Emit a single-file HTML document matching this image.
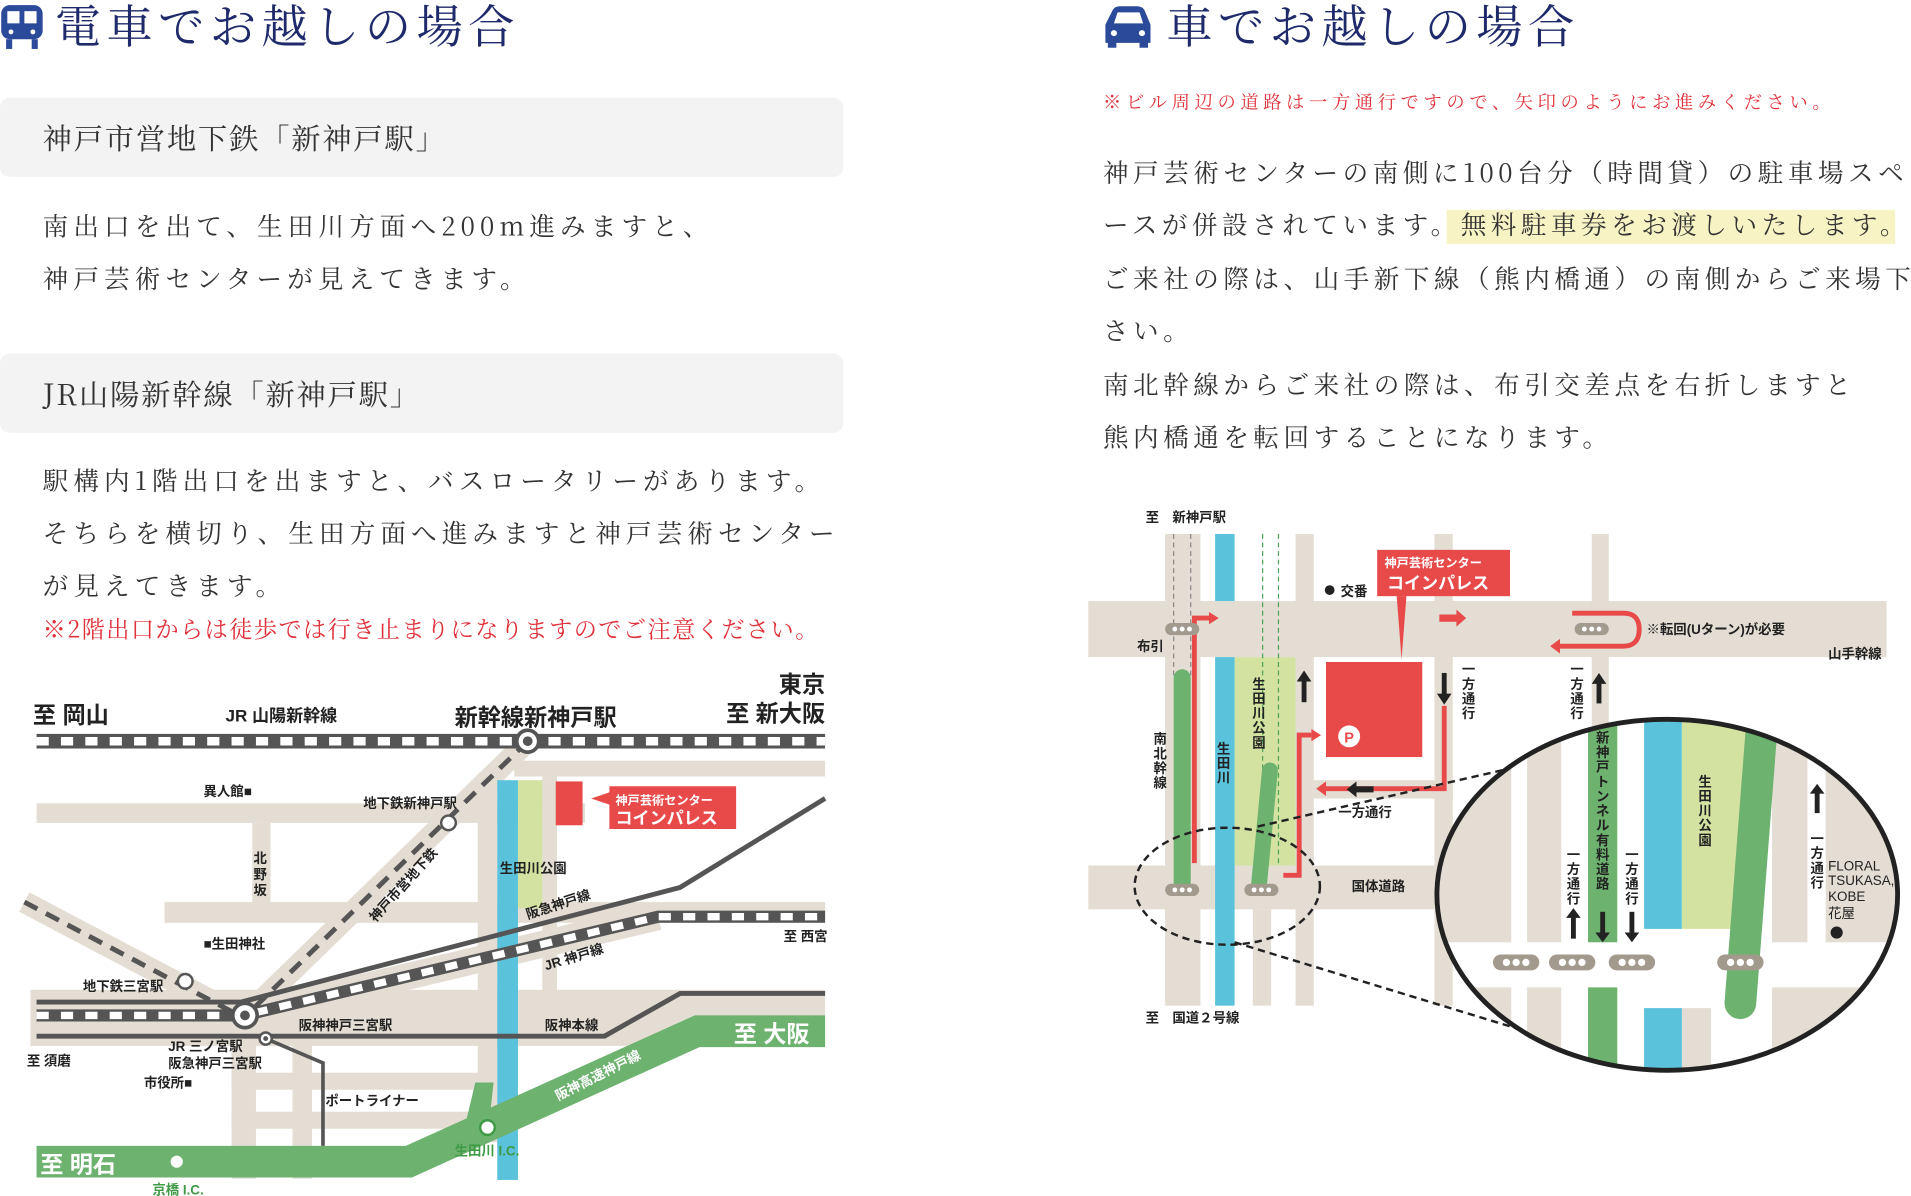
<!DOCTYPE html>
<html><head><meta charset="utf-8"><style>
html,body{margin:0;padding:0;background:#fff;width:1911px;height:1196px;overflow:hidden}
svg{display:block}
.s{font-family:"Noto Serif CJK SC","Liberation Serif",serif}
.g{font-family:"Liberation Sans","Noto Sans CJK JP",sans-serif}
</style></head><body>
<svg width="1911" height="1196" viewBox="0 0 1568 981" xmlns="http://www.w3.org/2000/svg">
<defs>
<clipPath id="cc"><ellipse cx="1368" cy="734" rx="189" ry="144"/></clipPath>
</defs>
<!-- LEFT header -->
<g fill="#2b4a9a">
<rect x="1" y="4" width="34" height="28" rx="7"/>
<rect x="5" y="32" width="5" height="8"/><rect x="26" y="32" width="5" height="8"/>
</g>
<rect x="6" y="9" width="10" height="10" fill="#fff"/><rect x="20" y="9" width="10" height="10" fill="#fff"/>
<circle cx="9" cy="26" r="2" fill="#fff"/><circle cx="27" cy="26" r="2" fill="#fff"/>
<text class="s" x="45" y="35" font-size="38" fill="#1f2a6b" letter-spacing="4.4">電車でお越しの場合</text>

<rect x="0" y="80" width="692" height="65" rx="8" fill="#f3f3f3"/>
<text class="s" x="35" y="122" font-size="24" fill="#333" letter-spacing="1.5">神戸市営地下鉄「新神戸駅」</text>
<g class="s" font-size="21" fill="#333" letter-spacing="4.2">
<text x="35" y="193">南出口を出て、生田川方面へ200m進みますと、</text>
<text x="35" y="236">神戸芸術センターが見えてきます。</text>
</g>
<rect x="0" y="290" width="692" height="65" rx="8" fill="#f3f3f3"/>
<text class="s" x="35" y="332" font-size="24" fill="#333" letter-spacing="1.5">JR山陽新幹線「新神戸駅」</text>
<g class="s" font-size="21" fill="#333" letter-spacing="4.2">
<text x="35" y="402">駅構内1階出口を出ますと、バスロータリーがあります。</text>
<text x="35" y="445">そちらを横切り、生田方面へ進みますと神戸芸術センター</text>
<text x="35" y="488">が見えてきます。</text>
</g>
<text class="s" x="35" y="523" font-size="19" fill="#e0303a" letter-spacing="1.2">※2階出口からは徒歩では行き止まりになりますのでご注意ください。</text>

<!-- LEFT MAP -->
<g fill="#e3ddd3">
<rect x="422" y="624" width="255" height="13"/>
<rect x="30" y="659" width="450" height="16"/>
<rect x="207" y="675" width="15" height="73"/>
<rect x="135" y="740" width="542" height="17"/>
<rect x="25" y="812" width="652" height="46"/>
<rect x="190" y="855" width="20" height="112"/>
<rect x="240" y="855" width="16" height="112"/>
<rect x="190" y="880" width="205" height="14"/>
<rect x="190" y="912" width="200" height="14"/>
<rect x="392" y="637" width="16" height="300"/>
<rect x="445" y="637" width="12" height="210"/>
</g>
<path d="M433 608 L200 835" stroke="#e3ddd3" stroke-width="18"/>
<path d="M20 740 L200 835" stroke="#e3ddd3" stroke-width="18"/>
<path d="M200 833 L540 752" stroke="#e3ddd3" stroke-width="22"/>
<rect x="425" y="640" width="20" height="105" fill="#d3e2a1"/>
<rect x="408" y="640" width="17" height="328" fill="#5bc2dc"/>
<path d="M433 608 L200 835" stroke="#555" stroke-width="4" stroke-dasharray="12 8"/>
<path d="M20 740 L200 835" stroke="#555" stroke-width="4" stroke-dasharray="12 8"/>
<path d="M30 822 L198 822 L558 728 L677 655" fill="none" stroke="#555" stroke-width="4"/>
<path d="M30 850 L496 850 L558 815 L677 815" fill="none" stroke="#555" stroke-width="4"/>
<path d="M218 852 L265 872 L265 940" fill="none" stroke="#555" stroke-width="3"/>
<path d="M30 833 L200 833 L540 752 L677 752" fill="none" stroke="#555" stroke-width="10"/>
<path d="M30 833 L200 833 L540 752 L677 752" fill="none" stroke="#fff" stroke-width="6" stroke-dasharray="10 10"/>
<rect x="30" y="602" width="647" height="12" fill="#555"/>
<line x1="30" y1="608" x2="677" y2="608" stroke="#fff" stroke-width="7" stroke-dasharray="10 10"/>
<path d="M30 940 L333 940 L570 833 L677 833 L677 859 L574 859 L338 966 L30 966 Z" fill="#6db26f"/>
<path d="M390 888 L405 888 L402 915 L380 930 Z" fill="#6db26f"/>
<circle cx="145" cy="953" r="6" fill="#fff" stroke="#6db26f" stroke-width="2"/>
<circle cx="400" cy="925" r="6" fill="#fff" stroke="#3e9a45" stroke-width="2"/>
<circle cx="433" cy="608" r="9" fill="#fff" stroke="#555" stroke-width="3"/><circle cx="433" cy="608" r="4" fill="#555"/>
<circle cx="201" cy="833" r="10" fill="#fff" stroke="#555" stroke-width="3"/><circle cx="201" cy="833" r="4" fill="#555"/>
<circle cx="218" cy="852" r="5" fill="#fff" stroke="#555" stroke-width="2"/><circle cx="218" cy="852" r="2" fill="#555"/>
<circle cx="368" cy="675" r="6" fill="#fff" stroke="#555" stroke-width="2"/>
<circle cx="152" cy="805" r="6" fill="#fff" stroke="#555" stroke-width="2"/>
<rect x="456" y="641" width="22" height="36" fill="#e84a4a"/>
<path d="M500 645 L604 645 L604 680 L500 680 L500 660 L485 655 L500 650 Z" fill="#e84a4a"/>
<g class="g" font-weight="bold" fill="#222">
<text x="27" y="593" font-size="19">至 岡山</text>
<text x="185" y="592" font-size="14">JR 山陽新幹線</text>
<text x="373" y="595" font-size="19">新幹線新神戸駅</text>
<text x="677" y="568" font-size="19" text-anchor="end">東京</text>
<text x="677" y="592" font-size="19" text-anchor="end">至 新大阪</text>
<g font-size="11">
<text x="167" y="653">異人館■</text>
<text x="298" y="663">地下鉄新神戸駅</text>
<text x="410" y="716">生田川公園</text>
<text x="167" y="778">■生田神社</text>
<text x="643" y="772">至 西宮</text>
<text x="68" y="813">地下鉄三宮駅</text>
<text x="245" y="845">阪神神戸三宮駅</text>
<text x="447" y="845">阪神本線</text>
<text x="22" y="874">至 須磨</text>
<text x="138" y="862">JR 三ノ宮駅</text>
<text x="138" y="876">阪急神戸三宮駅</text>
<text x="118" y="892">市役所■</text>
<text x="267" y="907">ポートライナー</text>
<text x="208" y="708">北</text><text x="208" y="721">野</text><text x="208" y="734">坂</text>
<text transform="translate(308,757) rotate(-48)">神戸市営地下鉄</text>
<text transform="translate(433,754) rotate(-18)">阪急神戸線</text>
<text transform="translate(448,796) rotate(-17)">JR 神戸線</text>
</g>
<text x="125" y="980" font-size="11" fill="#3e9a45">京橋 I.C.</text>
<text x="373" y="948" font-size="11" fill="#3e9a45">生田川 I.C.</text>
<text x="33" y="962" font-size="19" fill="#fff">至 明石</text>
<text x="602" y="855" font-size="19" fill="#fff">至 大阪</text>
<text transform="translate(458,903) rotate(-27)" font-size="11" fill="#fff">阪神高速神戸線</text>
<text x="505" y="660" font-size="10" fill="#fff">神戸芸術センター</text>
<text x="505" y="676" font-size="14" fill="#fff">コインパレス</text>
</g>

<!-- RIGHT header -->
<g fill="#2b4a9a">
<path d="M907 20 L913 8 Q915 5 919 5 L933 5 Q937 5 939 8 L944 20 L944 35 L907 35 Z"/>
<rect x="909" y="33" width="7" height="6"/><rect x="935" y="33" width="7" height="6"/>
</g>
<path d="M914 19 L917 10 L935 10 L938 19 Z" fill="#fff"/>
<circle cx="914" cy="27" r="2.5" fill="#fff"/><circle cx="937" cy="27" r="2.5" fill="#fff"/>
<text class="s" x="957" y="35" font-size="38" fill="#1f2a6b" letter-spacing="4.4">車でお越しの場合</text>
<text class="s" x="905" y="89" font-size="15" fill="#e0303a" letter-spacing="3.8">※ビル周辺の道路は一方通行ですので、矢印のようにお進みください。</text>
<rect x="1187" y="172" width="368" height="28" fill="#f7f3c4"/>
<g class="s" font-size="21" fill="#333" letter-spacing="3.7">
<text x="905" y="149">神戸芸術センターの南側に100台分（時間貸）の駐車場スペ</text>
<text x="905" y="192">ースが併設されています。無料駐車券をお渡しいたします。</text>
<text x="905" y="236">ご来社の際は、山手新下線（熊内橋通）の南側からご来場下</text>
<text x="905" y="279">さい。</text>
<text x="905" y="323">南北幹線からご来社の際は、布引交差点を右折しますと</text>
<text x="905" y="366">熊内橋通を転回することになります。</text>
</g>

<!-- RIGHT MAP -->
<g fill="#e3ddd3">
<rect x="893" y="493" width="655" height="46"/>
<rect x="893" y="710" width="300" height="36"/>
<rect x="956" y="438" width="29" height="387"/>
<rect x="1063" y="438" width="15" height="387"/>
<rect x="1177" y="438" width="15" height="387"/>
<rect x="1306" y="438" width="14" height="160"/>
<rect x="1028" y="746" width="15" height="79"/>
<rect x="1078" y="640" width="114" height="15"/>
</g>
<rect x="1013" y="539" width="50" height="171" fill="#d3e2a1"/>
<rect x="997" y="438" width="16" height="55" fill="#5bc2dc"/>
<rect x="997" y="539" width="16" height="286" fill="#5bc2dc"/>
<line x1="963" y1="438" x2="963" y2="555" stroke="#888" stroke-width="1" stroke-dasharray="4 3"/>
<line x1="977" y1="438" x2="977" y2="555" stroke="#888" stroke-width="1" stroke-dasharray="4 3"/>
<line x1="1036" y1="438" x2="1036" y2="710" stroke="#4ea356" stroke-width="1" stroke-dasharray="4 3"/>
<line x1="1049" y1="438" x2="1049" y2="710" stroke="#4ea356" stroke-width="1" stroke-dasharray="4 3"/>
<path d="M970 556 L970 726" stroke="#6db26f" stroke-width="14" stroke-linecap="round"/>
<path d="M1042 632 L1033 726" stroke="#6db26f" stroke-width="13" stroke-linecap="round"/>
<rect x="1088" y="543" width="79" height="78" fill="#e84a4a"/>
<circle cx="1107" cy="604" r="9" fill="#fff"/>
<text class="g" x="1107" y="609" font-size="12" font-weight="bold" fill="#e84a4a" text-anchor="middle">P</text>
<rect x="1130" y="451" width="109" height="38" fill="#e84a4a"/>
<path d="M1146 489 L1150 541 L1154 489 Z" fill="#e84a4a"/>
<g fill="none" stroke="#e84a4a" stroke-width="4">
<path d="M980 708 L980 507 L992 507"/>
<path d="M1053 718 L1066 718 L1066 603 L1076 603"/>
<path d="M1185 579 L1185 647 L1088 647"/>
<path d="M1290 503 L1332 503 Q1345 503 1345 516 Q1345 530 1332 530 L1280 530"/>
<path d="M1461 783 L1493 783 L1493 752"/>
</g>
<g fill="#e84a4a">
<path d="M992 502 L1000 507 L992 512 Z"/>
<path d="M1076 598 L1084 603 L1076 608 Z"/>
<path d="M1088 641 L1080 647 L1088 653 Z"/>
<path d="M1280 524 L1272 530 L1280 536 Z"/>
<path d="M1181 504 L1195 504 L1195 500 L1203 507 L1195 514 L1195 510 L1181 510 Z"/>
<path d="M1488 752 L1493 744 L1498 752 Z"/>
</g>
<g fill="#222">
<rect x="1068" y="558" width="4" height="18"/><path d="M1064 559 L1070 550 L1076 559 Z"/>
<rect x="1183" y="552" width="4" height="18"/><path d="M1179 569 L1185 578 L1191 569 Z"/>
<rect x="1310" y="560" width="4" height="17"/><path d="M1306 561 L1312 552 L1318 561 Z"/>
<rect x="1112" y="645" width="15" height="5"/><path d="M1113 641 L1105 647.5 L1113 654 Z"/>
</g>
<g>
<rect x="956" y="511" width="28" height="10" rx="5" fill="#a39a8e"/>
<rect x="1292" y="511" width="28" height="10" rx="5" fill="#a39a8e"/>
<rect x="956" y="725" width="28" height="10" rx="5" fill="#a39a8e"/>
<rect x="1021" y="725" width="28" height="10" rx="5" fill="#a39a8e"/>
</g>
<g fill="#fff">
<circle cx="964" cy="516" r="2"/><circle cx="970" cy="516" r="2"/><circle cx="976" cy="516" r="2"/>
<circle cx="1300" cy="516" r="2"/><circle cx="1306" cy="516" r="2"/><circle cx="1312" cy="516" r="2"/>
<circle cx="964" cy="730" r="2"/><circle cx="970" cy="730" r="2"/><circle cx="976" cy="730" r="2"/>
<circle cx="1029" cy="730" r="2"/><circle cx="1035" cy="730" r="2"/><circle cx="1041" cy="730" r="2"/>
</g>
<ellipse cx="1007" cy="727" rx="76" ry="48" fill="none" stroke="#222" stroke-width="2" stroke-dasharray="6 4"/>
<line x1="1032" y1="678" x2="1262" y2="625" stroke="#222" stroke-width="2" stroke-dasharray="6 4"/>
<line x1="1013" y1="773" x2="1262" y2="849" stroke="#222" stroke-width="2" stroke-dasharray="6 4"/>
<g clip-path="url(#cc)">
<rect x="1170" y="580" width="400" height="310" fill="#fff"/>
<g fill="#e3ddd3">
<rect x="1170" y="580" width="70" height="193"/>
<rect x="1253" y="580" width="28" height="193"/>
<rect x="1454" y="580" width="29" height="193"/>
<rect x="1498" y="580" width="70" height="193"/>
<rect x="1170" y="810" width="70" height="80"/>
<rect x="1253" y="810" width="28" height="80"/>
<rect x="1380" y="827" width="24" height="63"/>
<rect x="1454" y="810" width="114" height="80"/>
</g>
<rect x="1303" y="580" width="24" height="193" fill="#6db26f"/>
<rect x="1303" y="810" width="24" height="80" fill="#6db26f"/>
<rect x="1349" y="580" width="31" height="182" fill="#5bc2dc"/>
<rect x="1349" y="827" width="31" height="63" fill="#5bc2dc"/>
<path d="M1380 580 L1450 580 L1430 762 L1380 762 Z" fill="#d3e2a1"/>
<path d="M1446 590 L1428 823" stroke="#6db26f" stroke-width="26" stroke-linecap="round"/>
</g>
<ellipse cx="1368" cy="734" rx="189" ry="144" fill="none" stroke="#222" stroke-width="4"/>
<g fill="#a39a8e">
<rect x="1225" y="783" width="38" height="13" rx="6.5"/>
<rect x="1271" y="783" width="38" height="13" rx="6.5"/>
<rect x="1320" y="783" width="38" height="13" rx="6.5"/>
<rect x="1409" y="783" width="38" height="13" rx="6.5"/>
</g>
<g fill="#fff">
<circle cx="1236" cy="789.5" r="3"/><circle cx="1244" cy="789.5" r="3"/><circle cx="1252" cy="789.5" r="3"/>
<circle cx="1282" cy="789.5" r="3"/><circle cx="1290" cy="789.5" r="3"/><circle cx="1298" cy="789.5" r="3"/>
<circle cx="1331" cy="789.5" r="3"/><circle cx="1339" cy="789.5" r="3"/><circle cx="1347" cy="789.5" r="3"/>
<circle cx="1420" cy="789.5" r="3"/><circle cx="1428" cy="789.5" r="3"/><circle cx="1436" cy="789.5" r="3"/>
</g>
<g fill="#222">
<rect x="1289" y="752" width="4" height="18"/><path d="M1285 753 L1291 745 L1297 753 Z"/>
<rect x="1313" y="748" width="4" height="18"/><path d="M1309 765 L1315 773 L1321 765 Z"/>
<rect x="1337" y="748" width="4" height="18"/><path d="M1333 765 L1339 773 L1345 765 Z"/>
<rect x="1489" y="650" width="4" height="17"/><path d="M1485 651 L1491 643 L1497 651 Z"/>
<circle cx="1507" cy="765" r="5"/>
<circle cx="1091" cy="484" r="4"/>
</g>
<g class="g" font-weight="bold" fill="#222" font-size="11">
<text x="940" y="428">至　新神戸駅</text>
<text x="1100" y="489">交番</text>
<text x="933" y="534">布引</text>
<text x="1351" y="520">※転回(Uターン)が必要</text>
<text x="1500" y="540">山手幹線</text>
<text x="1098" y="670">一方通行</text>
<text x="1109" y="731">国体道路</text>
<text x="940" y="839">至　国道２号線</text>
<text x="1136" y="465" font-size="10" fill="#fff">神戸芸術センター</text>
<text x="1138" y="483" font-size="14" fill="#fff">コインパレス</text>
<g text-anchor="middle">
<text x="952" y="610">南</text><text x="952" y="622">北</text><text x="952" y="634">幹</text><text x="952" y="646">線</text>
<text x="1004" y="618">生</text><text x="1004" y="630">田</text><text x="1004" y="642">川</text>
<text x="1033" y="565">生</text><text x="1033" y="577">田</text><text x="1033" y="589">川</text><text x="1033" y="601">公</text><text x="1033" y="613">園</text>
<text x="1205" y="553">一</text><text x="1205" y="565">方</text><text x="1205" y="577">通</text><text x="1205" y="589">行</text>
<text x="1294" y="553">一</text><text x="1294" y="565">方</text><text x="1294" y="577">通</text><text x="1294" y="589">行</text>
<text x="1315" y="609">新</text><text x="1315" y="621">神</text><text x="1315" y="633">戸</text><text x="1315" y="645">ト</text><text x="1315" y="657">ン</text><text x="1315" y="669">ネ</text><text x="1315" y="681">ル</text><text x="1315" y="693">有</text><text x="1315" y="705">料</text><text x="1315" y="717">道</text><text x="1315" y="729">路</text>
<text x="1291" y="705">一</text><text x="1291" y="717">方</text><text x="1291" y="729">通</text><text x="1291" y="741">行</text>
<text x="1339" y="705">一</text><text x="1339" y="717">方</text><text x="1339" y="729">通</text><text x="1339" y="741">行</text>
<text x="1399" y="645">生</text><text x="1399" y="657">田</text><text x="1399" y="669">川</text><text x="1399" y="681">公</text><text x="1399" y="693">園</text>
<text x="1491" y="692">一</text><text x="1491" y="704">方</text><text x="1491" y="716">通</text><text x="1491" y="728">行</text>
</g>
<g font-weight="normal">
<text x="1500" y="714">FLORAL</text>
<text x="1500" y="726">TSUKASA,</text>
<text x="1500" y="739">KOBE</text>
<text x="1500" y="753">花屋</text>
</g>
</g>
</svg>
</body></html>
